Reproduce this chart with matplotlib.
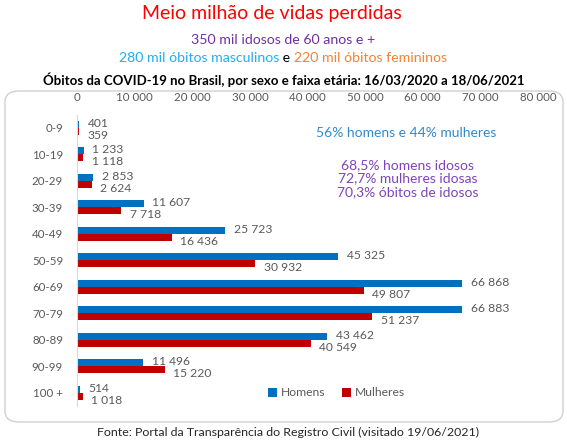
import matplotlib
matplotlib.use("Agg")
import matplotlib.pyplot as plt
from matplotlib.patches import FancyBboxPatch
import numpy as np

plt.rcParams['font.family'] = ['Lato', 'DejaVu Sans']

## data
faixas = ['0-9', '10-19', '20-29', '30-39', '40-49', '50-59',
          '60-69', '70-79', '80-89', '90-99', '100 +']
homens = [401, 1233, 2853, 11607, 25723, 45325, 66868, 66883, 43462, 11496, 514]
mulheres = [359, 1118, 2624, 7718, 16436, 30932, 49807, 51237, 40549, 15220, 1018]
xticks = [0, 10000, 20000, 30000, 40000, 50000, 60000, 70000, 80000]

c_h = '#0070C0'
c_m = '#C00000'
gray = '#595959'


def fmt(v):
    return '{:,}'.format(v).replace(',', ' ')


W, H = 567, 443
fig = plt.figure(figsize=(W / 100, H / 100), dpi=100)

# rounded frame around the chart
frame = FancyBboxPatch((5 / W, 1 - 422 / H), 558 / W, 331 / H,
                       boxstyle='round,pad=0,rounding_size=0.025',
                       transform=fig.transFigure, facecolor='white',
                       edgecolor='#D0D0D0', linewidth=1.0, zorder=-1)
fig.patches.append(frame)

ax = fig.add_axes([77 / W, 1 - 406 / H, 461 / W, 291.5 / H])
ax.patch.set_alpha(0)

y = np.arange(len(faixas))
h = 0.27
ax.barh(y - h / 2, homens, height=h, color=c_h, label='Homens')
ax.barh(y + h / 2, mulheres, height=h, color=c_m, label='Mulheres')

for i in range(len(faixas)):
    ax.annotate(fmt(homens[i]), (homens[i], y[i] - h / 2), xytext=(6, 0.5),
                textcoords='offset points', va='center', ha='left',
                fontsize=8.7, color=gray)
    ax.annotate(fmt(mulheres[i]), (mulheres[i], y[i] + h / 2), xytext=(6, -3),
                textcoords='offset points', va='center', ha='left',
                fontsize=8.7, color=gray)

ax.set_xlim(0, 80000)
ax.set_ylim(len(faixas) - 0.5, -0.5)
ax.set_xticks(xticks)
ax.set_xticklabels([fmt(v) for v in xticks])
ax.xaxis.tick_top()
ax.set_yticks(y)
ax.set_yticklabels(faixas)
ax.tick_params(axis='both', length=0, labelsize=8.3, colors=gray)
ax.tick_params(axis='x', pad=8)
ax.tick_params(axis='y', pad=10)
for s in ['top', 'right', 'bottom']:
    ax.spines[s].set_visible(False)
ax.spines['left'].set_color('#D9D9D9')

ax.legend(loc='center', bbox_to_anchor=(0.563, 0.045), ncol=2, frameon=False,
          fontsize=8.7, handlelength=0.75, handleheight=0.75, columnspacing=1.4,
          handletextpad=0.3, labelcolor=gray)

# annotations inside the chart
ax.text(0.713, 0.935, '56% homens e 44% mulheres', transform=ax.transAxes,
        ha='center', va='center', fontsize=10, color='#2E8BD0')
ax.text(0.717, 0.78, '68,5% homens idosos\n72,7% mulheres idosas\n70,3% óbitos de idosos',
        transform=ax.transAxes, ha='center', va='center', fontsize=10,
        color='#7E44B8', linespacing=1.15)

# titles
fig.text(272 / W, 1 - 13 / H, 'Meio milhão de vidas perdidas', ha='center', va='center',
         fontsize=14, color='#FF0000')
fig.text(283 / W, 1 - 40 / H, '350 mil idosos de 60 anos e +', ha='center', va='center',
         fontsize=10.2, color='#7030A0')
y2 = 1 - 58 / H
t1 = fig.text(119 / W, y2, '280 mil óbitos masculinos', ha='left',
              va='center', fontsize=10.2, color='#1EB0F0')
t2 = fig.text(0, y2, ' e ', fontsize=10.2, color='black', va='center')
t3 = fig.text(0, y2, '220 mil óbitos femininos', fontsize=10.2, color='#F58233', va='center')
fig.canvas.draw()
r = fig.canvas.get_renderer()
bb1 = t1.get_window_extent(r).transformed(fig.transFigure.inverted())
t2.set_position((bb1.x1, y2))
bb2 = t2.get_window_extent(r).transformed(fig.transFigure.inverted())
t3.set_position((bb2.x1, y2))

fig.text(284 / W, 1 - 80 / H, 'Óbitos da COVID-19 no Brasil, por sexo e faixa etária: 16/03/2020 a 18/06/2021',
         ha='center', va='center', fontsize=9.5, fontweight='bold', color='black')
fig.text(288 / W, 1 - 432 / H, 'Fonte: Portal da Transparência do Registro Civil (visitado 19/06/2021)',
         ha='center', va='center', fontsize=8.9, color='#262626')

fig.savefig('out.png', dpi=100)
